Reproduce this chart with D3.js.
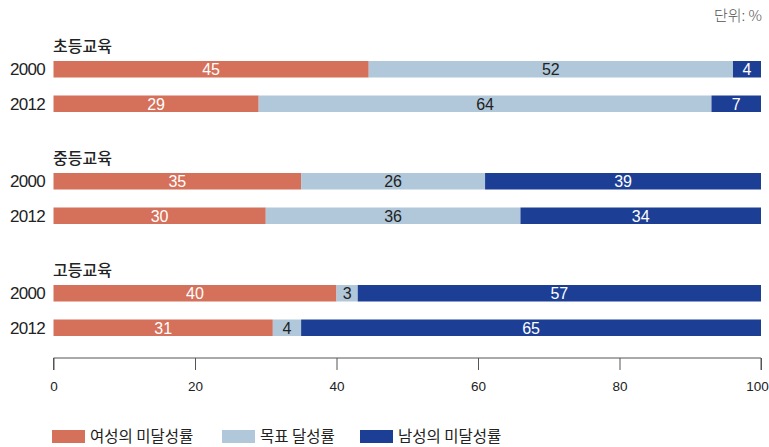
<!DOCTYPE html>
<html>
<head>
<meta charset="utf-8">
<script src="https://cdn.jsdelivr.net/npm/d3@7"></script>
<style>
  html, body { margin: 0; padding: 0; background: #fff; }
  svg { display: block; font-family: "Liberation Sans", "Noto Sans CJK KR", sans-serif; }
</style>
</head>
<body>
<svg id="chart" width="769" height="447"></svg>
<script>
// 교육 단계별 성평등 목표 달성 현황 (단위: %)
const groups = ["초등교육", "중등교육", "고등교육"];
const years = ["2000", "2012"];
const seriesNames = ["여성의 미달성률", "목표 달성률", "남성의 미달성률"];
const seriesColors = ["#D5705A", "#B1C8DA", "#1C3E95"];
const labelColors = ["#ffffff", "#222222", "#ffffff"];

// 각 행: [여성의 미달성률, 목표 달성률, 남성의 미달성률]
const primary = [[45, 52, 4], [29, 64, 7]];
const secondary = [[35, 26, 39], [30, 36, 34]];
const tertiary = [[40, 3, 57], [31, 4, 65]];
const xTicks = [0, 20, 40, 60, 80, 100];

const groupValues = [primary, secondary, tertiary];

const svg = d3.select("#chart");

const x = d3.scaleLinear().domain([0, 100]).range([53.5, 761]);
const yGroup = d3.scalePoint().domain(groups).range([61, 285]);
const yYear = d3.scalePoint().domain(years).range([0, 34.5]);
const barH = 16.5;

// 행 데이터: 합계가 100이 아닌 경우 합계 기준으로 정규화해 막대를 그림
const rows = [];
groups.forEach((g, gi) => {
  years.forEach((yr, yi) => {
    const vals = groupValues[gi][yi];
    const total = d3.sum(vals);
    let acc = 0;
    const segs = vals.map((v, si) => {
      const x0 = acc / total * 100;
      acc += v;
      const x1 = acc / total * 100;
      return { series: si, value: v, x0, x1 };
    });
    rows.push({ group: g, year: yr, y: yGroup(g) + yYear(yr), segs });
  });
});

// 단위
svg.append("text")
  .attr("x", 762).attr("y", 21)
  .attr("text-anchor", "end")
  .attr("fill", "#555")
  .style("font-size", "15px")
  .style("font-family", "'Noto Sans CJK KR', sans-serif")
  .style("font-weight", "300")
  .text("단위: %");

// 그룹 제목
svg.selectAll("text.group")
  .data(groups)
  .enter().append("text")
  .attr("class", "group")
  .attr("x", 53)
  .attr("y", d => yGroup(d) - 9)
  .attr("fill", "#222")
  .style("font-size", "16px")
  .style("font-family", "'Noto Sans CJK KR', sans-serif")
  .style("font-weight", "500")
  .text(d => d);

const rowG = svg.selectAll("g.row")
  .data(rows)
  .enter().append("g")
  .attr("class", "row")
  .attr("transform", d => `translate(0,${d.y})`);

// 연도 라벨
rowG.append("text")
  .attr("x", 45)
  .attr("y", barH / 2)
  .attr("dy", "0.36em")
  .attr("text-anchor", "end")
  .attr("fill", "#222")
  .style("font-size", "17px")
  .style("letter-spacing", "-0.7px")
  .text(d => d.year);

// 막대
rowG.selectAll("rect")
  .data(d => d.segs)
  .enter().append("rect")
  .attr("x", d => x(d.x0))
  .attr("width", d => x(d.x1) - x(d.x0))
  .attr("y", 0)
  .attr("height", barH)
  .attr("fill", d => seriesColors[d.series]);

// 값 라벨
rowG.selectAll("text.val")
  .data(d => d.segs)
  .enter().append("text")
  .attr("class", "val")
  .attr("x", d => (x(d.x0) + x(d.x1)) / 2)
  .attr("y", barH / 2)
  .attr("dy", "0.36em")
  .attr("text-anchor", "middle")
  .attr("fill", d => labelColors[d.series])
  .style("font-size", "16px")
  .text(d => d.value);

// x축
const axis = d3.axisBottom(x)
  .tickValues(xTicks)
  .tickSize(12)
  .tickPadding(11)
  .tickFormat(d3.format("d"));

const axG = svg.append("g")
  .attr("transform", "translate(0,358)")
  .call(axis);
axG.select(".domain").attr("stroke", "#555").attr("d", `M${x(0)},12V0H${x(100)}V12`);
axG.selectAll(".tick line").attr("stroke", "#555");
axG.selectAll(".tick text")
  .attr("fill", "#222")
  .style("font-size", "13.5px")
  .style("font-family", "'Liberation Sans', sans-serif");
// 오른쪽 끝 눈금 라벨이 잘리지 않도록 안쪽으로 당김
axG.selectAll(".tick text").filter(d => d === 100).attr("dx", -4);

// 범례
const legendX = [52, 222, 360];
const leg = svg.selectAll("g.legend")
  .data(seriesNames)
  .enter().append("g")
  .attr("class", "legend")
  .attr("transform", (d, i) => `translate(${legendX[i]},430)`);
leg.append("rect")
  .attr("width", 33).attr("height", 13)
  .attr("fill", (d, i) => seriesColors[i]);
leg.append("text")
  .attr("x", 38).attr("y", 6.5)
  .attr("dy", "0.36em")
  .attr("fill", "#222")
  .style("font-size", "15.5px")
  .style("font-family", "'Noto Sans CJK KR', sans-serif")
  .text(d => d);
</script>
</body>
</html>
